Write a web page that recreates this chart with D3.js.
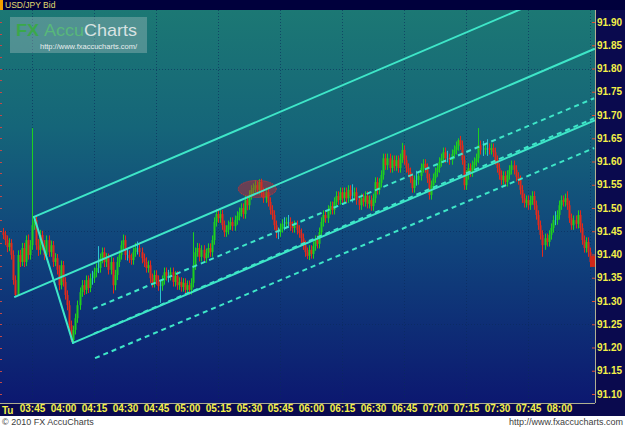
<!DOCTYPE html>
<html><head><meta charset="utf-8">
<script src="https://cdn.jsdelivr.net/npm/d3@7"></script>
<style>html,body{margin:0;padding:0;background:#fff;overflow:hidden}</style>
</head><body><svg id="c" width="625" height="428"></svg>
<script>
// ---------- DATA ----------
const chartTitle = "USD/JPY Bid";
const dayLabel = "Tu";
const firstBarTime = "03:31";       // 1-minute bars
const firstOpen = 91.448;
const closes = [
 91.442,91.431,91.416,91.425,91.399,91.345,91.313,91.399,91.384,91.414,
 91.384,91.431,91.399,91.420,91.463,91.474,91.420,91.410,91.442,91.420,
 91.399,91.431,91.405,91.420,91.384,91.392,91.367,91.334,91.377,91.341,
 91.313,91.291,91.248,91.216,91.238,91.263,91.291,91.319,91.334,91.324,
 91.345,91.328,91.349,91.349,91.362,91.371,91.371,91.392,91.405,91.384,
 91.392,91.367,91.384,91.334,91.356,91.384,91.399,91.420,91.431,91.399,
 91.399,91.392,91.388,91.405,91.414,91.414,91.405,91.392,91.384,91.371,
 91.377,91.349,91.339,91.356,91.345,91.332,91.332,91.345,91.362,91.354,
 91.354,91.362,91.341,91.354,91.334,91.341,91.330,91.339,91.324,91.334,
 91.324,91.339,91.377,91.405,91.414,91.395,91.410,91.392,91.403,91.414,
 91.405,91.431,91.470,91.487,91.478,91.487,91.463,91.448,91.453,91.463,
 91.470,91.461,91.474,91.483,91.491,91.500,91.487,91.517,91.506,91.528,
 91.539,91.543,91.549,91.539,91.556,91.534,91.521,91.534,91.513,91.496,
 91.485,91.463,91.448,91.448,91.457,91.466,91.466,91.470,91.470,91.461,
 91.457,91.463,91.453,91.446,91.435,91.420,91.405,91.397,91.410,91.401,
 91.418,91.431,91.423,91.448,91.470,91.485,91.478,91.496,91.504,91.496,
 91.513,91.526,91.517,91.534,91.521,91.534,91.521,91.539,91.526,91.526,
 91.534,91.517,91.506,91.521,91.513,91.526,91.509,91.517,91.504,91.521,
 91.556,91.539,91.554,91.571,91.607,91.592,91.607,91.586,91.603,91.590,
 91.603,91.586,91.607,91.625,91.603,91.586,91.577,91.564,91.543,91.560,
 91.560,91.569,91.586,91.595,91.586,91.564,91.528,91.549,91.564,91.577,
 91.586,91.599,91.607,91.620,91.607,91.607,91.603,91.616,91.625,91.633,
 91.646,91.635,91.603,91.549,91.571,91.586,91.577,91.592,91.599,91.607,
 91.635,91.625,91.625,91.629,91.629,91.625,91.629,91.620,91.603,91.586,
 91.571,91.560,91.569,91.556,91.571,91.582,91.592,91.582,91.567,91.560,
 91.539,91.521,91.511,91.517,91.506,91.517,91.526,91.506,91.485,91.463,
 91.442,91.420,91.435,91.427,91.442,91.457,91.474,91.474,91.485,91.506,
 91.517,91.513,91.521,91.506,91.478,91.463,91.474,91.466,91.485,91.457,
 91.431,91.414,91.427,91.405,91.384
];
const highs = [
 91.457,91.451,91.441,91.435,91.433,91.409,91.355,91.409,91.410,91.425,
 91.425,91.441,91.443,91.431,91.672,91.481,91.483,91.433,91.453,91.451,
 91.431,91.441,91.441,91.430,91.429,91.403,91.401,91.377,91.387,91.386,
 91.351,91.323,91.301,91.258,91.247,91.273,91.301,91.329,91.345,91.345,
 91.355,91.355,91.359,91.365,91.372,91.381,91.418,91.402,91.415,91.415,
 91.403,91.402,91.395,91.393,91.367,91.395,91.409,91.430,91.443,91.441,
 91.412,91.409,91.402,91.415,91.425,91.428,91.424,91.415,91.402,91.394,
 91.387,91.387,91.359,91.366,91.366,91.355,91.345,91.355,91.372,91.372,
 91.367,91.372,91.372,91.364,91.364,91.351,91.351,91.349,91.349,91.344,
 91.344,91.349,91.448,91.415,91.425,91.424,91.420,91.420,91.413,91.424,
 91.424,91.441,91.480,91.497,91.497,91.497,91.496,91.473,91.463,91.473,
 91.480,91.480,91.484,91.493,91.501,91.510,91.510,91.527,91.527,91.538,
 91.549,91.553,91.559,91.558,91.562,91.563,91.544,91.544,91.544,91.523,
 91.506,91.495,91.473,91.458,91.467,91.476,91.480,91.480,91.485,91.480,
 91.471,91.473,91.473,91.463,91.456,91.445,91.430,91.415,91.420,91.420,
 91.428,91.441,91.441,91.458,91.480,91.495,91.495,91.506,91.514,91.514,
 91.523,91.536,91.536,91.544,91.544,91.544,91.544,91.549,91.549,91.551,
 91.544,91.544,91.527,91.531,91.531,91.536,91.536,91.527,91.527,91.531,
 91.566,91.566,91.564,91.581,91.617,91.617,91.617,91.617,91.613,91.613,
 91.613,91.613,91.617,91.640,91.635,91.613,91.596,91.587,91.574,91.570,
 91.580,91.579,91.596,91.605,91.605,91.596,91.574,91.559,91.574,91.587,
 91.596,91.609,91.617,91.630,91.630,91.623,91.617,91.626,91.635,91.643,
 91.650,91.655,91.645,91.613,91.581,91.596,91.596,91.602,91.609,91.617,
 91.672,91.645,91.644,91.639,91.648,91.639,91.639,91.639,91.630,91.613,
 91.596,91.581,91.579,91.579,91.581,91.592,91.602,91.602,91.592,91.577,
 91.570,91.549,91.531,91.527,91.527,91.527,91.536,91.536,91.516,91.495,
 91.473,91.452,91.445,91.445,91.452,91.467,91.484,91.493,91.495,91.516,
 91.527,91.527,91.531,91.536,91.516,91.488,91.484,91.484,91.495,91.495,
 91.467,91.441,91.437,91.437,91.415
];
const lows = [
 91.433,91.420,91.405,91.407,91.389,91.335,91.309,91.312,91.373,91.375,
 91.373,91.375,91.389,91.389,91.410,91.453,91.410,91.397,91.400,91.409,
 91.388,91.389,91.395,91.395,91.373,91.375,91.357,91.323,91.325,91.331,
 91.303,91.280,91.238,91.212,91.210,91.228,91.253,91.281,91.309,91.313,
 91.315,91.317,91.319,91.335,91.339,91.351,91.360,91.361,91.381,91.373,
 91.373,91.357,91.357,91.316,91.323,91.345,91.373,91.389,91.410,91.388,
 91.387,91.382,91.378,91.378,91.395,91.400,91.395,91.381,91.373,91.361,
 91.361,91.339,91.329,91.329,91.335,91.322,91.296,91.322,91.335,91.344,
 91.340,91.344,91.331,91.331,91.324,91.324,91.320,91.320,91.314,91.314,
 91.314,91.314,91.329,91.367,91.395,91.385,91.385,91.382,91.382,91.393,
 91.395,91.395,91.421,91.460,91.468,91.468,91.453,91.438,91.438,91.443,
 91.453,91.451,91.451,91.464,91.473,91.481,91.477,91.477,91.495,91.496,
 91.518,91.529,91.533,91.529,91.529,91.524,91.511,91.511,91.503,91.486,
 91.475,91.453,91.435,91.433,91.438,91.447,91.452,91.456,91.457,91.451,
 91.447,91.447,91.443,91.436,91.425,91.410,91.395,91.390,91.388,91.391,
 91.391,91.408,91.413,91.413,91.438,91.460,91.468,91.468,91.486,91.486,
 91.486,91.503,91.507,91.507,91.511,91.511,91.511,91.511,91.516,91.512,
 91.516,91.507,91.496,91.496,91.503,91.503,91.499,91.499,91.494,91.494,
 91.511,91.529,91.529,91.544,91.561,91.582,91.582,91.576,91.576,91.580,
 91.580,91.576,91.576,91.597,91.593,91.576,91.567,91.554,91.533,91.533,
 91.548,91.550,91.559,91.576,91.576,91.554,91.518,91.518,91.539,91.554,
 91.567,91.576,91.589,91.597,91.597,91.598,91.593,91.593,91.606,91.615,
 91.623,91.625,91.593,91.539,91.539,91.561,91.567,91.567,91.582,91.589,
 91.597,91.615,91.612,91.615,91.612,91.615,91.615,91.610,91.593,91.576,
 91.561,91.550,91.550,91.546,91.546,91.561,91.572,91.572,91.557,91.550,
 91.529,91.511,91.501,91.501,91.496,91.496,91.507,91.496,91.475,91.453,
 91.432,91.395,91.410,91.417,91.417,91.432,91.447,91.463,91.464,91.475,
 91.496,91.503,91.503,91.496,91.468,91.453,91.453,91.456,91.456,91.447,
 91.421,91.404,91.404,91.395,91.374
];

const yTickValues = [91.10,91.15,91.20,91.25,91.30,91.35,91.40,91.45,91.50,91.55,91.60,91.65,91.70,91.75,91.80,91.85,91.90];
const xTickLabels = ["03:45","04:00","04:15","04:30","04:45","05:00","05:15","05:30","05:45","06:00","06:15","06:30","06:45","07:00","07:15","07:30","07:45","08:00"];
const gridTimes = ["03:45","04:15","04:45","05:15","05:45","06:15","06:45","07:15","07:45","08:15"];
const gridPrices = [91.25,91.45,91.80];

// Andrews pitchfork (solid) and channel (dashed): [time1, price1, time2, price2]
const pitchforkLines = [
 ["03:36:45",91.309,"08:17:00",91.842],
 ["03:46:00",91.481,"08:17:00",91.995],
 ["03:46:00",91.481,"04:04:50",91.210],
 ["04:04:50",91.210,"08:17:00",91.688]
];
const channelLines = [
 ["04:14:30",91.283,"08:17:00",91.736],
 ["04:15:00",91.230,"08:17:00",91.693],
 ["04:15:30",91.177,"08:17:00",91.629]
];
const highlight = {time:"05:34:00", price:91.541, halfMinutes:9.2, halfPrice:0.0183};

// ---------- DRAW ----------
const W = 625, H = 428;
const plot = {left:0, right:595, top:10, bottom:403};
const parseT = s => d3.timeParse("%H:%M:%S")(s.length === 5 ? s + ":00" : s);

const x = d3.scaleTime().domain([parseT("03:29:31"), parseT("08:16:56")]).range([0, 594]);
const y = d3.scaleLinear().domain([91.10, 91.90]).range([394, 22]);

const svg = d3.select("#c");
const defs = svg.append("defs");
const grad = defs.append("linearGradient").attr("id","bg").attr("x1",0).attr("y1",0).attr("x2",0).attr("y2",1);
[[0,"#1c7874"],[0.3,"#156579"],[0.6,"#10447c"],[1,"#0c1870"]].forEach(([o,c]) =>
  grad.append("stop").attr("offset",o).attr("stop-color",c));
defs.append("clipPath").attr("id","clip").append("rect")
  .attr("x",plot.left).attr("y",plot.top).attr("width",plot.right-plot.left).attr("height",plot.bottom-plot.top);

svg.append("rect").attr("width",W).attr("height",H).attr("fill","#ffffff");
svg.append("rect").attr("x",0).attr("y",plot.top).attr("width",plot.right).attr("height",plot.bottom-plot.top).attr("fill","url(#bg)");

const g = svg.append("g").attr("clip-path","url(#clip)");

// grid
g.selectAll(".vg").data(gridTimes).join("line")
  .attr("x1",d=>Math.round(x(parseT(d)))+0.5).attr("x2",d=>Math.round(x(parseT(d)))+0.5)
  .attr("y1",plot.top).attr("y2",plot.bottom)
  .attr("stroke","#0a2a5a").attr("stroke-opacity",0.6).attr("stroke-dasharray","1,2");
g.selectAll(".hg").data(gridPrices).join("line")
  .attr("x1",0).attr("x2",plot.right)
  .attr("y1",d=>Math.round(y(d))+0.5).attr("y2",d=>Math.round(y(d))+0.5)
  .attr("stroke","#0a2a5a").attr("stroke-opacity",0.6).attr("stroke-dasharray","1,2");

// left edge minor ticks
g.selectAll(".lt").data(d3.range(0,33).map(k=>91.10+k*0.025)).join("line")
  .attr("x1",0).attr("x2",2).attr("y1",d=>Math.round(y(d))+0.5).attr("y2",d=>Math.round(y(d))+0.5)
  .attr("stroke","#c04848");

// watermark
const wm = svg.append("g");
wm.append("rect").attr("x",10).attr("y",17).attr("width",137).attr("height",36).attr("fill","#b8c8c8").attr("fill-opacity",0.35);
const wt = wm.append("text").attr("x",16).attr("y",36).attr("font-family","Liberation Sans, Arial, sans-serif").attr("font-size",17)
  .attr("textLength",121).attr("lengthAdjust","spacingAndGlyphs");
wt.append("tspan").attr("font-weight","bold").attr("fill","#3aa84a").text("FX ");
wt.append("tspan").attr("fill","#58b87a").text("Accu");
wt.append("tspan").attr("fill","#d8e2e2").text("Charts");
wm.append("text").attr("x",40).attr("y",49).attr("font-family","Liberation Sans, Arial, sans-serif").attr("font-size",7.5)
  .attr("fill","#e8eeee").text("http://www.fxaccucharts.com/");

// candles
const t0 = parseT(firstBarTime);
const bars = closes.map((c,i) => {
  const o = i === 0 ? firstOpen : closes[i-1];
  return {t: d3.timeMinute.offset(t0, i), o, c, h: highs[i], l: lows[i]};
});
const col = d => d.c > d.o ? "#1ed01e" : d.c < d.o ? "#e42a1a" : "#2cc0d0";
const cg = g.append("g");
cg.selectAll(".wk").data(bars).join("line")
  .attr("x1",d=>Math.round(x(d.t))+0.5).attr("x2",d=>Math.round(x(d.t))+0.5)
  .attr("y1",d=>y(d.h)).attr("y2",d=>y(d.l)).attr("stroke",col).attr("stroke-width",1);
cg.selectAll(".bd").data(bars.filter(d => d.c !== d.o)).join("rect")
  .attr("x",d=>Math.round(x(d.t))-0.5).attr("width",2)
  .attr("y",d=>y(Math.max(d.o,d.c))).attr("height",d=>Math.max(1, y(Math.min(d.o,d.c)) - y(Math.max(d.o,d.c))))
  .attr("fill",col);

// highlight ellipse
const hc = parseT(highlight.time);
g.append("ellipse")
  .attr("cx",x(hc)).attr("cy",y(highlight.price))
  .attr("rx",x(d3.timeSecond.offset(hc, highlight.halfMinutes*60)) - x(hc))
  .attr("ry",y(highlight.price - highlight.halfPrice) - y(highlight.price))
  .attr("fill","#d02828").attr("fill-opacity",0.45).attr("stroke","#e03030").attr("stroke-width",1).attr("stroke-dasharray","1,1");

// pitchfork & channel
const lineColor = "#3ee6c8";
g.selectAll(".pf").data(pitchforkLines).join("line")
  .attr("x1",d=>x(parseT(d[0]))).attr("y1",d=>y(d[1])).attr("x2",d=>x(parseT(d[2]))).attr("y2",d=>y(d[3]))
  .attr("stroke",lineColor).attr("stroke-width",2).attr("stroke-linecap","round");
g.selectAll(".ch").data(channelLines).join("line")
  .attr("x1",d=>x(parseT(d[0]))).attr("y1",d=>y(d[1])).attr("x2",d=>x(parseT(d[2]))).attr("y2",d=>y(d[3]))
  .attr("stroke",lineColor).attr("stroke-width",2).attr("stroke-dasharray","5,4");

// top title bar
svg.append("rect").attr("x",0).attr("y",0).attr("width",W).attr("height",plot.top).attr("fill","#00003c");
svg.append("rect").attr("x",0).attr("y",0).attr("width",3).attr("height",plot.top).attr("fill","#f0a000");
svg.append("text").attr("x",5).attr("y",8).attr("font-family","Liberation Sans, Arial, sans-serif").attr("font-size",8.5)
  .attr("fill","#e0dc70").text(chartTitle);

// right axis panel
svg.append("rect").attr("x",plot.right).attr("y",plot.top).attr("width",W-plot.right).attr("height",plot.bottom+13-plot.top).attr("fill","#0a0a4e");
svg.append("line").attr("x1",plot.right+0.5).attr("x2",plot.right+0.5).attr("y1",plot.top).attr("y2",plot.bottom+13)
  .attr("stroke","#b0b090").attr("stroke-width",1);
const yAxis = d3.axisRight(y).tickValues(yTickValues).tickFormat(d3.format(".2f")).tickSize(3).tickPadding(0);
const ya = svg.append("g").attr("transform",`translate(${plot.right-1},0)`).call(yAxis);
ya.select(".domain").remove();
ya.selectAll(".tick line").attr("stroke","#e05030").attr("x1",-2).attr("x2",1);
ya.selectAll(".tick text").attr("x",3).attr("fill","#f4f048").attr("font-family","Liberation Sans, Arial, sans-serif")
  .attr("font-size",10).attr("font-weight","bold").attr("text-anchor","start");
// last price marker
svg.append("rect").attr("x",590).attr("y",y(closes[closes.length-1])-6).attr("width",5).attr("height",11).attr("fill","#d02818");

// bottom axis panel
svg.append("rect").attr("x",0).attr("y",plot.bottom).attr("width",W).attr("height",13).attr("fill","#0a0a4e");
svg.append("line").attr("x1",0).attr("x2",plot.right).attr("y1",plot.bottom+0.5).attr("y2",plot.bottom+0.5).attr("stroke","#b0b090");
const xAxis = d3.axisBottom(x).tickValues(xTickLabels.map(parseT)).tickFormat(d3.timeFormat("%H:%M")).tickSize(0).tickPadding(0);
const xa = svg.append("g").attr("transform",`translate(0,${plot.bottom+2})`).call(xAxis);
xa.select(".domain").remove();
xa.selectAll(".tick text").attr("dy","0.72em").attr("fill","#f4f048").attr("font-family","Liberation Sans, Arial, sans-serif")
  .attr("font-size",10).attr("font-weight","bold");
svg.append("text").attr("x",2).attr("y",plot.bottom+11).attr("fill","#f4f048").attr("font-family","Liberation Sans, Arial, sans-serif")
  .attr("font-size",10).attr("font-weight","bold").text(dayLabel);

// footer
svg.append("text").attr("x",2).attr("y",425).attr("font-family","Liberation Sans, Arial, sans-serif").attr("font-size",9)
  .attr("fill","#404040").text("© 2010 FX AccuCharts");
svg.append("text").attr("x",623).attr("y",425).attr("text-anchor","end").attr("font-family","Liberation Sans, Arial, sans-serif").attr("font-size",9)
  .attr("fill","#404040").text("http://www.fxaccucharts.com");
</script></body></html>
